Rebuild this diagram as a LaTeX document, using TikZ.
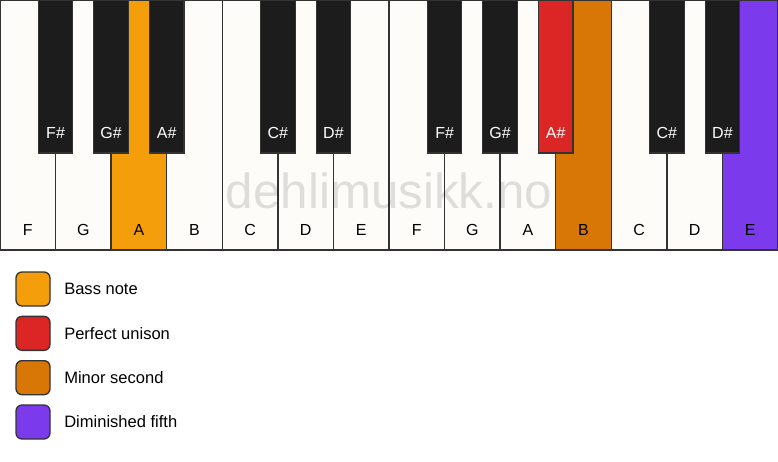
\documentclass[tikz,border=0pt]{standalone}
\usepackage{fontspec}
\setmainfont{Liberation Sans}
\usetikzlibrary{positioning}

\definecolor{keywhite}{HTML}{FDFCF8}
\definecolor{keyblack}{HTML}{1C1C1C}
\definecolor{keyline}{HTML}{333333}
\definecolor{bassnote}{HTML}{F59E0B}
\definecolor{unison}{HTML}{DC2626}
\definecolor{minorsecond}{HTML}{D97706}
\definecolor{dimfifth}{HTML}{7C3AED}

\def \keywidth {41.68pt}
\def \keyheight {187.5pt}
\def \blackwidth {25.9pt}
\def \blackheight {114.75pt}

\tikzset{
  keytext/.style={anchor=center, yshift=15pt, inner sep=0pt, font=\fontsize{12}{14}\selectfont},
  whitekey/.style={draw=keyline, fill=keywhite, line width=1pt, outer sep=0pt, inner sep=0pt,
    minimum width=\keywidth, minimum height=\keyheight, anchor=north west,
    label={[keytext, text=black]south:#1}},
  blackkey/.style={draw=keyline, fill=keyblack, line width=0.8pt, outer sep=0pt, inner sep=0pt,
    minimum width=\blackwidth, minimum height=\blackheight, anchor=north,
    label={[keytext, text=white]south:#1}},
  legendbox/.style={draw=keyline, line width=1pt, rounded corners=4.5pt, outer sep=0pt,
    minimum size=25.5pt, anchor=north west},
  legendtext/.style={inner sep=0pt, font=\fontsize{12.4}{14}\selectfont}
}

\begin{document}
\begin{tikzpicture}[x=0.75pt, y=-0.75pt]
\useasboundingbox[fill=white] (0,0) rectangle (778,461);
% white keys
\node[whitekey=F] (wF1) at (0,0) {};
\node[whitekey=G, right=0pt of wF1] (wG1) {};
\node[whitekey=A, fill=bassnote, right=0pt of wG1] (wA1) {}; % bass note
\node[whitekey=B, right=0pt of wA1] (wB1) {};
\node[whitekey=C, right=0pt of wB1] (wC1) {};
\node[whitekey=D, right=0pt of wC1] (wD1) {};
\node[whitekey=E, right=0pt of wD1] (wE1) {};
\node[whitekey=F, right=0pt of wE1] (wF2) {};
\node[whitekey=G, right=0pt of wF2] (wG2) {};
\node[whitekey=A, right=0pt of wG2] (wA2) {};
\node[whitekey=B, fill=minorsecond, right=0pt of wA2] (wB2) {}; % minor second
\node[whitekey=C, right=0pt of wB2] (wC2) {};
\node[whitekey=D, right=0pt of wC2] (wD2) {};
\node[whitekey=E, fill=dimfifth, right=0pt of wD2] (wE2) {}; % diminished fifth
% black keys
\node[blackkey=F\#] (bFs1) at (wF1.north east) {};
\node[blackkey=G\#] (bGs1) at (wG1.north east) {};
\node[blackkey=A\#] (bAs1) at (wA1.north east) {};
\node[blackkey=C\#] (bCs1) at (wC1.north east) {};
\node[blackkey=D\#] (bDs1) at (wD1.north east) {};
\node[blackkey=F\#] (bFs2) at (wF2.north east) {};
\node[blackkey=G\#] (bGs2) at (wG2.north east) {};
\node[blackkey=A\#, fill=unison] (bAs2) at (wA2.north east) {}; % perfect unison
\node[blackkey=C\#] (bCs2) at (wC2.north east) {};
\node[blackkey=D\#] (bDs2) at (wD2.north east) {};
% watermark
\node[text=black, text opacity=0.12, font=\fontsize{37}{42}\selectfont] (mark) at (389,191) {dehlimusikk.no};
% legend
\node[legendbox, fill=bassnote] (kBass) at (16,272) {};
\node[legendtext, right=10.5pt of kBass] (tBass) {Bass note};
\node[legendbox, fill=unison, below=7.75pt of kBass] (kUnison) {};
\node[legendtext, right=10.5pt of kUnison] (tUnison) {Perfect unison};
\node[legendbox, fill=minorsecond, below=7.75pt of kUnison] (kSecond) {};
\node[legendtext, right=10.5pt of kSecond] (tSecond) {Minor second};
\node[legendbox, fill=dimfifth, below=7.75pt of kSecond] (kFifth) {};
\node[legendtext, right=10.5pt of kFifth] (tFifth) {Diminished fifth};
\end{tikzpicture}
\end{document}
